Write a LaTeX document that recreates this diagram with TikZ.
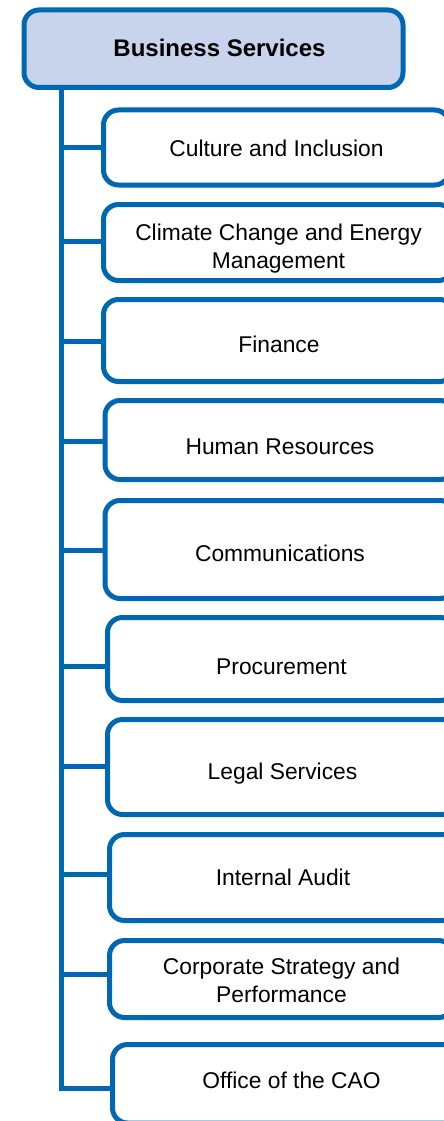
\documentclass[tikz,border=0pt]{standalone}
\usepackage{fontspec}
\setmainfont{Liberation Sans}
\definecolor{orgblue}{HTML}{0067B2}
\definecolor{headfill}{HTML}{C8D3EC}
\tikzset{
  headbox/.style={draw=orgblue, fill=headfill, line width=5pt, rounded corners=15pt,
    inner sep=0pt, outer sep=0pt},
  headtext/.style={inner sep=0pt, font=\fontsize{24}{28}\selectfont\bfseries, text=black},
  unitbox/.style={draw=orgblue, fill=white, line width=5pt, rounded corners=15pt,
    inner sep=0pt, outer sep=0pt},
  unittext/.style={inner sep=0pt, font=\fontsize{22.8}{28}\selectfont, text=black},
  link/.style={draw=orgblue, line width=5pt}
}
\begin{document}
\begin{tikzpicture}[x=1pt, y=-1pt]
  \clip (0,0) rectangle (444,1121);
  \fill[white] (0,0) rectangle (444,1121);

  % department head
  \node[headbox, minimum width=379pt, minimum height=77.5pt] (head) at (213.5,48.75) {};
  \node[headtext, anchor=base] (head-t) at (219.5,56.7) {Business Services};

  % trunk of the tree starts under the head box
  \coordinate (tx) at (61,0);
  \coordinate (root) at (head.south -| tx);

  % units: id / left / top / right / bottom / link y / text x / baseline / label
  \foreach \n/\l/\t/\r/\b/\j/\tx/\ty/\txt in {
    1/103.5/110/449.5/185/147/276.5/156.7/{Culture and Inclusion},
    2/103.5/204.5/453.5/280.5/241.7/278.5/240.7/{Climate Change and Energy\\Management},
    3/103.5/299.5/454.5/381.5/341.7/279/352.7/{Finance},
    4/105/400.5/455/479.5/441/280/454/{Human Resources},
    5/105/500.5/455/598.5/550/280/561/{Communications},
    6/107.5/617.5/455.5/700.5/666.7/281.5/674.3/{Procurement},
    7/107.5/719.5/457.5/814.5/766.7/282.5/779/{Legal Services},
    8/109.5/834.5/456.5/920.5/874/283/885.7/{Internal Audit},
    9/109.5/940.5/453.5/1017.5/974/281.5/974/{Corporate Strategy and\\Performance},
    10/112.5/1044.5/470.5/1123/1088.3/291.5/1088.3/{Office of the CAO}%
  } {
    \node[unitbox, minimum width={\r-\l}, minimum height={\b-\t}]
      (u\n) at ({(\l+\r)/2},{(\t+\b)/2}) {};
    \node[unittext, anchor=base] (u\n-t) at (\tx,\ty)
      {\begin{tabular}[t]{@{}c@{}}\txt\end{tabular}};
    \coordinate (j\n) at (0,\j);
    \draw[link] (root) |- (u\n.west |- j\n);
  }
\end{tikzpicture}
\end{document}
